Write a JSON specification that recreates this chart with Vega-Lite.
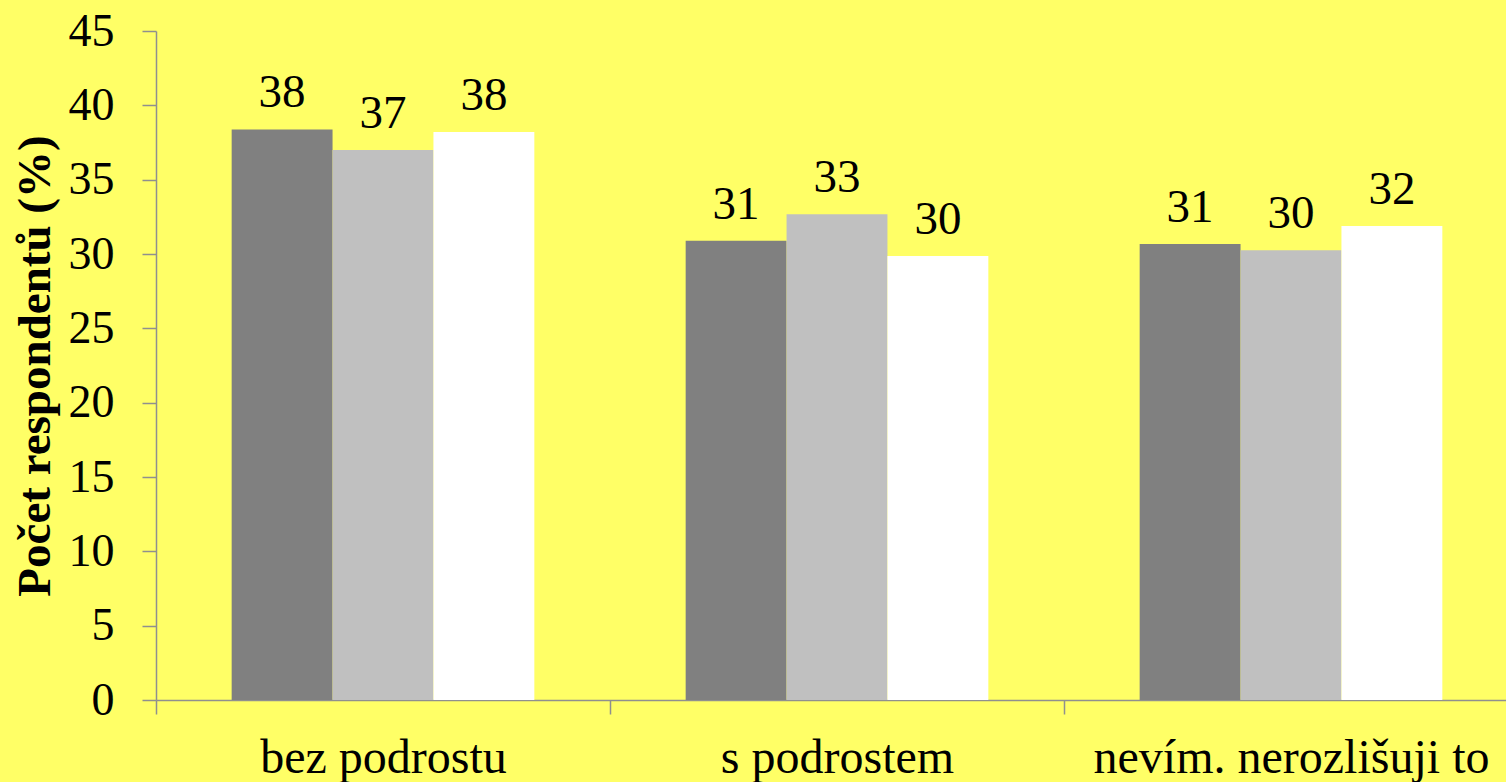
{
  "$schema": "https://vega.github.io/schema/vega-lite/v6.json",
  "width": 1350,
  "height": 669,
  "autosize": {"type": "none"},
  "padding": {"left": 156, "top": 31, "right": 0, "bottom": 82},
  "background": "#FFFF66",
  "config": {
    "view": {"stroke": null},
    "font": "Liberation Serif",
    "axis": {"labelFont": "Liberation Serif", "titleFont": "Liberation Serif"},
    "text": {"font": "Liberation Serif"}
  },
  "data": {
    "values": [
      {"category": "bez podrostu", "series": "1", "value": 38.38},
      {"category": "bez podrostu", "series": "2", "value": 36.99},
      {"category": "bez podrostu", "series": "3", "value": 38.2},
      {"category": "s podrostem", "series": "1", "value": 30.89},
      {"category": "s podrostem", "series": "2", "value": 32.68},
      {"category": "s podrostem", "series": "3", "value": 29.86},
      {"category": "nevím. nerozlišuji to", "series": "1", "value": 30.67},
      {"category": "nevím. nerozlišuji to", "series": "2", "value": 30.26},
      {"category": "nevím. nerozlišuji to", "series": "3", "value": 31.88}
    ]
  },
  "encoding": {
    "x": {
      "field": "category",
      "type": "nominal",
      "sort": ["bez podrostu", "s podrostem", "nevím. nerozlišuji to"],
      "scale": {"range": [0, 1362], "paddingInner": 0, "paddingOuter": 0},
      "axis": {
        "title": null,
        "labelAngle": 0,
        "labelFont": "Liberation Serif",
        "labelFontSize": 48,
        "labelLimit": 0,
        "labelColor": "#000000",
        "labelPadding": 20,
        "tickSize": 14,
        "tickBand": "extent",
        "tickColor": "#8f8f8f",
        "domainColor": "#8f8f8f",
        "tickWidth": 1.5,
        "domainWidth": 1.5
      }
    },
    "xOffset": {
      "field": "series",
      "type": "nominal",
      "sort": ["1", "2", "3"],
      "scale": {"paddingInner": 0, "paddingOuter": 0.75}
    },
    "y": {
      "field": "value",
      "type": "quantitative",
      "scale": {"domain": [0, 45], "nice": false},
      "axis": {
        "title": "Počet respondentů (%)",
        "titleFont": "Liberation Serif",
        "titleFontSize": 47,
        "titleFontWeight": "bold",
        "titleColor": "#000000",
        "titlePadding": 9,
        "values": [0, 5, 10, 15, 20, 25, 30, 35, 40, 45],
        "labelFont": "Liberation Serif",
        "labelFontSize": 46,
        "labelColor": "#000000",
        "labelPadding": 28,
        "tickSize": 14,
        "tickColor": "#8f8f8f",
        "domainColor": "#8f8f8f",
        "tickWidth": 1.5,
        "domainWidth": 1.5,
        "grid": false
      }
    }
  },
  "layer": [
    {
      "mark": {"type": "bar"},
      "encoding": {
        "color": {
          "field": "series",
          "type": "nominal",
          "scale": {"domain": ["1", "2", "3"], "range": ["#808080", "#C0C0C0", "#FFFFFF"]},
          "legend": null
        }
      }
    },
    {
      "mark": {"type": "text", "baseline": "alphabetic", "dy": -22, "fontSize": 47, "font": "Liberation Serif", "color": "#000000"},
      "encoding": {
        "text": {"field": "value", "type": "quantitative", "format": ".0f"}
      }
    }
  ]
}
